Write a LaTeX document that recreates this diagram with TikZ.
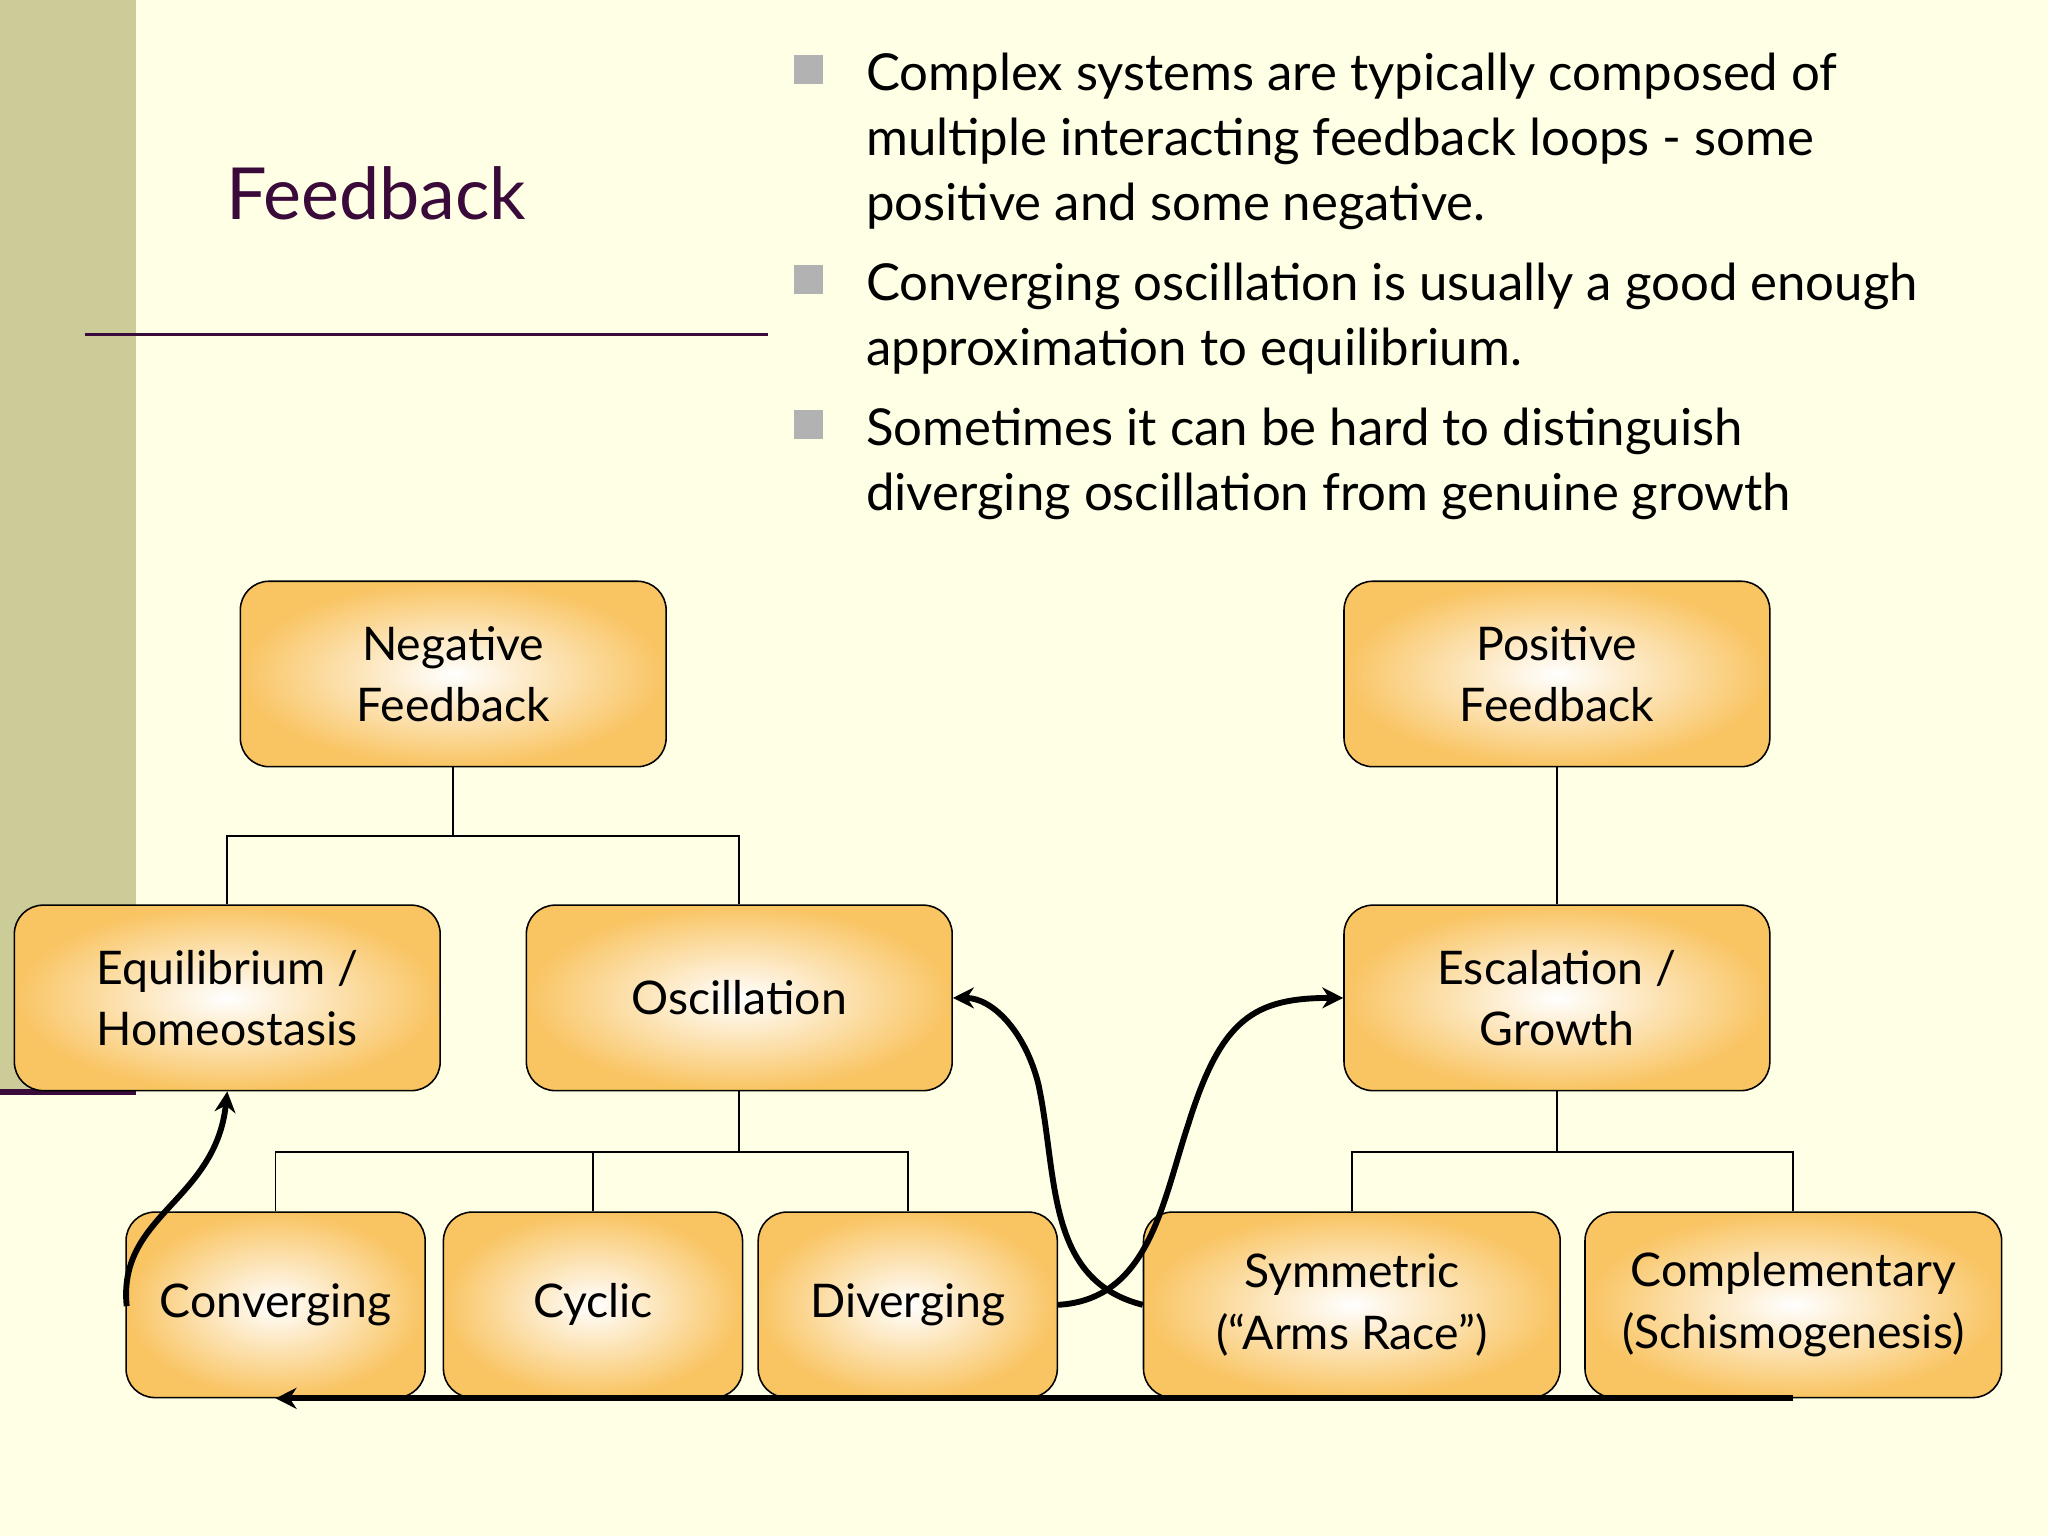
\documentclass[tikz,border=0pt]{standalone}
\usepackage{fontspec}
\setmainfont{Lato}
\usetikzlibrary{arrows.meta}
\definecolor{bg}{HTML}{FFFFE5}
\definecolor{bar}{HTML}{CCCC99}
\definecolor{purp}{HTML}{3A0A3A}
\definecolor{org}{HTML}{F9C462}
\begin{document}
\begin{tikzpicture}[x=1pt,y=-1pt,
 box/.style={draw=black,line width=1.2pt,rounded corners=22pt,minimum width=326pt,minimum height=142pt,inner color=white,outer color=org,align=center,font=\fontsize{35.5}{47}\selectfont},
 sbox/.style={box,minimum width=229pt},
 wbox/.style={box,minimum width=319pt},
 tree/.style={line width=1.3pt},
 arr/.style={line width=4.5pt,-{Stealth[length=16pt,width=16pt]}},
 btext/.style={anchor=north west,align=left,inner sep=0,font=\fontsize{39}{50}\selectfont}]
\useasboundingbox (0,0) rectangle (1568,1176);
\fill[bg] (0,0) rectangle (1568,1176);
\fill[bar] (0,0) rectangle (104,835);
\draw[purp,line width=4pt] (0,836) -- (104,836);
\node[purp,font=\fontsize{55}{64}\selectfont] (title) at (288,148) {Feedback};
\draw[purp,line width=2.5pt] (65,256) -- (588,256);
\foreach \y in {53,214,325} \fill[black!30] (608,\y-11) rectangle (630,\y+11);
\node[btext] (b1) at (663,40) {Complex systems are typically composed of\\multiple interacting feedback loops - some\\positive and some negative.};
\node[btext] (b2) at (663,201) {Converging oscillation is usually a good enough\\approximation to equilibrium.};
\node[btext] (b3) at (663,312) {Sometimes it can be hard to distinguish\\diverging oscillation from genuine growth};
\node[box] (neg) at (347,516) {Negative\\Feedback};
\node[box] (pos) at (1192,516) {Positive\\Feedback};
\node[box] (eq) at (174,764) {Equilibrium /\\Homeostasis};
\node[box] (osc) at (566,764) {Oscillation};
\node[box] (esc) at (1192,764) {Escalation /\\Growth};
\node[sbox] (conv) at (211,999) {Converging};
\node[sbox] (cyc) at (454,999) {Cyclic};
\node[sbox] (div) at (695,999) {Diverging};
\node[wbox] (sym) at (1035,999) {Symmetric\\(“Arms Race”)};
\node[wbox] (comp) at (1373,999) {Complementary\\(Schismogenesis)};
\draw[tree] (neg.south) -- (347,640) -| (eq.north);
\draw[tree] (347,640) -| (osc.north);
\draw[tree] (osc.south) -- (566,882) -| (conv.north);
\draw[tree] (566,882) -| (div.north);
\draw[tree] (cyc.north) -- (454,882);
\draw[tree] (pos.south) -- (esc.north);
\draw[tree] (esc.south) -- (1192,882) -| (sym.north);
\draw[tree] (1192,882) -| (comp.north);
\draw[arr] (97,1000) .. controls (90,930) and (165,920) .. (eq.south);
\draw[arr] (div.east) .. controls (880,995) and (890,920) .. (910,860) .. controls (935,780) and (960,764) .. (esc.west);
\draw[arr] (sym.west) .. controls (800,980) and (810,900) .. (795,830) .. controls (785,790) and (760,764) .. (osc.east);
\draw[arr] (comp.south) -- (conv.south);
\end{tikzpicture}
\end{document}
